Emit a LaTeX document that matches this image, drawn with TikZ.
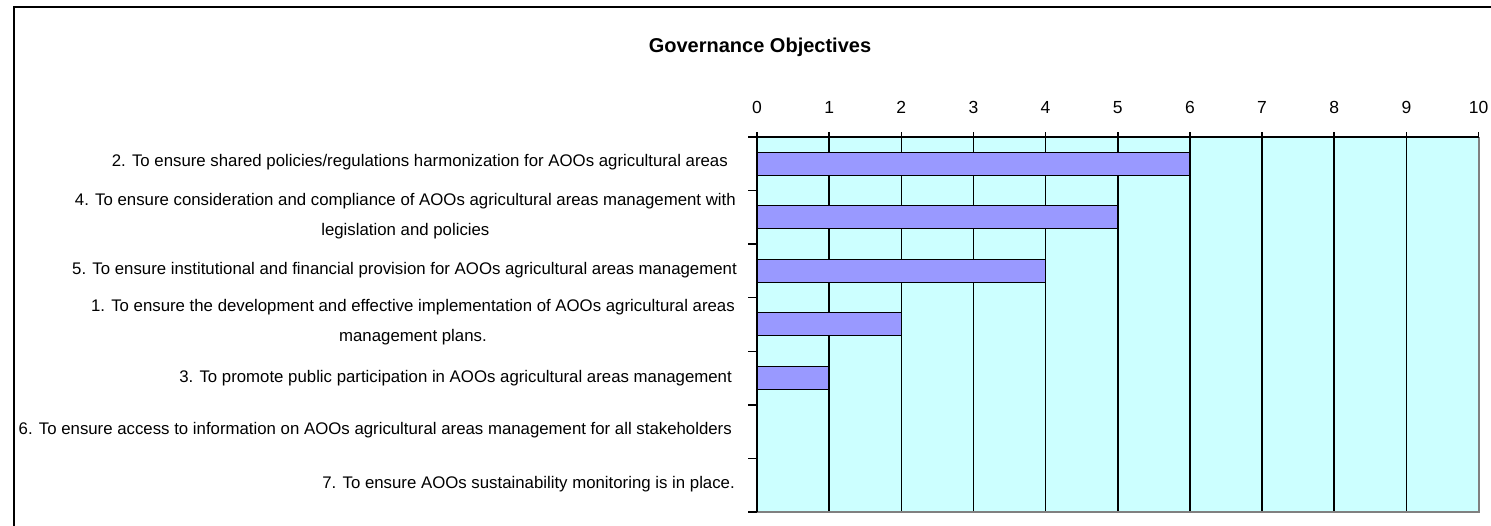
\documentclass[tikz,border=0pt]{standalone}
\usepackage{fontspec}
\newfontfamily\chartfont{Liberation Sans}
\usetikzlibrary{positioning}
\definecolor{plotbg}{HTML}{CCFFFF}
\definecolor{barfill}{HTML}{9999FF}
\definecolor{plotedge}{HTML}{808080}

\begin{document}
\begin{tikzpicture}[x=1pt, y=-1pt]
    % Define styles
    \tikzstyle{bar} = [rectangle, draw=black, fill=barfill, line width=1.5pt, inner sep=0pt, outer sep=0pt, minimum height=23pt, anchor=west]
    \tikzstyle{catlabel} = [anchor=east, align=center, inner sep=0pt, font=\chartfont\fontsize{16.8}{30}\selectfont]
    \tikzstyle{numlabel} = [anchor=base, inner sep=0pt, font=\chartfont\fontsize{17.5}{20}\selectfont]
    \tikzstyle{gridline} = [black, line width=1.5pt]
    \def\unitw{72.15}
    \def\cath{53.57}

    \clip (0,0) rectangle (1491,525);
    % Chart frame and title
    \draw [line width=2pt] (14,7) rectangle (1494,532);
    \node [font=\chartfont\bfseries\fontsize{20}{24}\selectfont] (title) at (760,47) {Governance Objectives};

    % Plot area
    \fill [plotbg] (757,137) rectangle (1478.5,512);
    \foreach \i in {1,...,9}
        \draw [gridline] ({757+\i*\unitw},137) -- ++(0,375);
    \foreach \i in {0,...,10} {
        \draw [gridline] ({757+\i*\unitw},137) -- ++(0,-5);
        \node [numlabel] (num\i) at ({757+\i*\unitw},113) {\i};
    }
    \foreach \j in {0,...,7}
        \draw [gridline] (748,{137+\j*\cath}) -- (757,{137+\j*\cath});
    \draw [plotedge, line width=2pt] (1478.5,137) -- (1478.5,512) -- (757,512);
    \draw [gridline] (757,512) -- (757,137) -- (1478.5,137);

    % Bars
    \node [bar, minimum width=6*\unitw] (bar2) at (757,164) {};
    \node [bar, minimum width=5*\unitw] (bar4) at (757,217) {};
    \node [bar, minimum width=4*\unitw] (bar5) at (757,271) {};
    \node [bar, minimum width=2*\unitw] (bar1) at (757,324) {};
    \node [bar, minimum width=1*\unitw] (bar3) at (757,378) {};

    % Category labels
    \node [catlabel] (obj2) at (728,162) {2. To ensure shared policies/regulations harmonization for AOOs agricultural areas};
    \node [catlabel] (obj4) at (736,216) {4. To ensure consideration and compliance of AOOs agricultural areas management with\\legislation and policies};
    \node [catlabel] (obj5) at (737,270) {5. To ensure institutional and financial provision for AOOs agricultural areas management};
    \node [catlabel] (obj1) at (735,322) {1. To ensure the development and effective implementation of AOOs agricultural areas\\management plans.};
    \node [catlabel] (obj3) at (732,378) {3. To promote public participation in AOOs agricultural areas management};
    \node [catlabel] (obj6) at (732,430) {6. To ensure access to information on AOOs agricultural areas management for all stakeholders};
    \node [catlabel] (obj7) at (735,484) {7. To ensure AOOs sustainability monitoring is in place.};
\end{tikzpicture}
\end{document}
